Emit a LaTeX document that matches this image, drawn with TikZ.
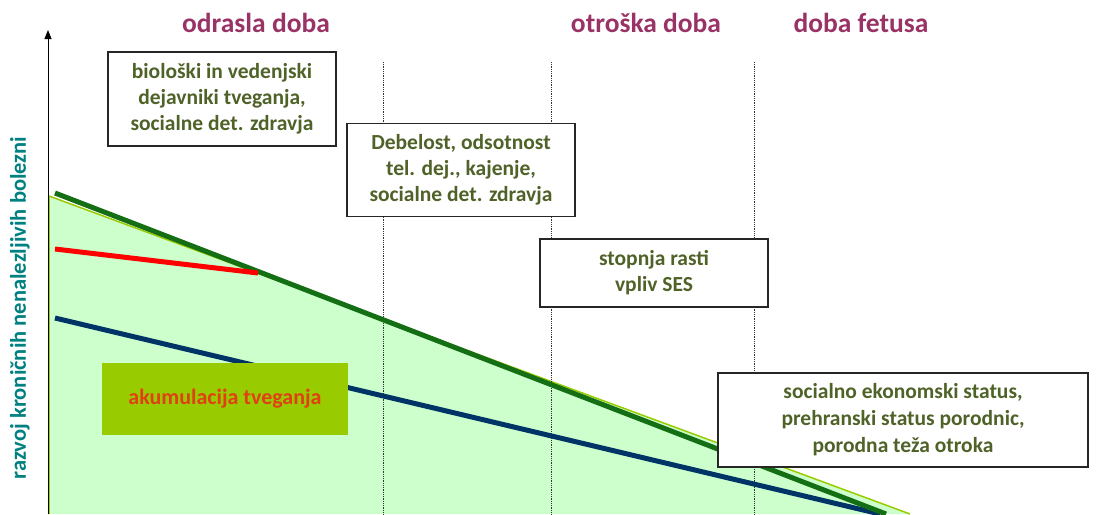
\documentclass[tikz,border=0pt]{standalone}
\usepackage{fontspec}
\setmainfont{Carlito}
\usetikzlibrary{arrows.meta}
\definecolor{titlec}{RGB}{153,51,102}
\definecolor{boxtext}{RGB}{79,98,40}
\definecolor{axislab}{RGB}{0,128,128}
\definecolor{fillg}{RGB}{204,255,204}
\definecolor{edgeg}{RGB}{153,204,0}
\definecolor{darkg}{RGB}{20,110,20}
\definecolor{navy}{RGB}{0,51,102}
\definecolor{redl}{RGB}{255,0,0}
\definecolor{accum}{RGB}{153,204,0}
\definecolor{accumtext}{RGB}{224,64,20}
\begin{document}
\begin{tikzpicture}[x=1pt,y=-1pt,
  title/.style={font=\bfseries\fontsize{27.5}{30}\selectfont, text=titlec, inner sep=0pt},
  infobox/.style={draw=black!85, line width=1.2pt, fill=white, text=boxtext, align=center,
    font=\bfseries\fontsize{21.5}{26}\selectfont, inner sep=0pt},
  divider/.style={densely dotted, line width=0.8pt, black!80},
  riskline/.style={line width=5pt}]
\useasboundingbox (0,0) rectangle (1099,514);
% green area
\fill[fillg] (49,196) -- (910,514) -- (49,514) -- cycle;
\draw[edgeg, line width=1.5pt] (49,514) -- (49,196) -- (910,514);
% dividers
\coordinate (d1t) at (383,62); \coordinate (d1b) at (383,514);
\coordinate (d2t) at (551,62); \coordinate (d2b) at (551,514);
\coordinate (d3t) at (754,62); \coordinate (d3b) at (754,514);
\draw[divider] (d1t) -- (d1b);
\draw[divider] (d2t) -- (d2b);
\draw[divider] (d3t) -- (d3b);
% axis
\coordinate (ax0) at (48,514); \coordinate (ax1) at (48,30);
\draw[line width=1pt, -{Triangle[length=9pt,width=7pt]}] (ax0) -- (ax1);
\node[rotate=90, text=axislab, font=\bfseries\fontsize{22.5}{26}\selectfont, inner sep=0pt] (ylab) at (20,308) {razvoj kroničnih nenalezljivih bolezni};
% risk lines
\coordinate (r1) at (55,249); \coordinate (r2) at (258,273);
\coordinate (g1) at (55,193); \coordinate (g2) at (886,514);
\coordinate (b1) at (55,318); \coordinate (b2) at (880,514);
\draw[riskline, navy] (b1) -- (b2);
\draw[riskline, darkg] (g1) -- (g2);
\draw[riskline, redl] (r1) -- (r2);
% accumulation box
\node[fill=accum, minimum width=246pt, minimum height=72pt, inner sep=0pt, text=accumtext,
  font=\bfseries\fontsize{22}{26}\selectfont] (acc) at (225,399) {akumulacija tveganja};
% titles
\node[title] (t1) at (256,23) {odrasla doba};
\node[title] (t2) at (646,23) {otroška doba};
\node[title] (t3) at (861,23) {doba fetusa};
% boxes
\node[infobox, minimum width=228pt, minimum height=94pt] (bx1) at (222,99) {biološki in vedenjski\\dejavniki tveganja,\\socialne det. zdravja};
\node[infobox, minimum width=228pt, minimum height=93pt] (bx2) at (461,170) {Debelost, odsotnost\\tel. dej., kajenje,\\socialne det. zdravja};
\node[infobox, minimum width=228pt, minimum height=68pt] (bx3) at (654,273) {stopnja rasti\\vpliv SES};
\node[infobox, minimum width=370pt, minimum height=94pt, font=\bfseries\fontsize{21.5}{27}\selectfont] (bx4) at (903,420) {socialno ekonomski status,\\prehranski status  porodnic,\\porodna teža otroka};
\end{tikzpicture}
\end{document}
